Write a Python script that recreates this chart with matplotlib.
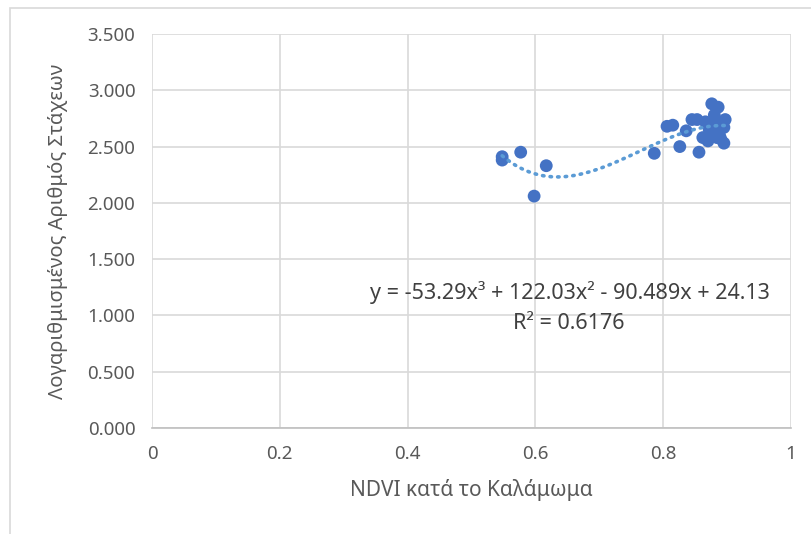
import matplotlib
matplotlib.use('Agg')
import matplotlib.pyplot as plt
import numpy as np
from matplotlib.patches import Rectangle

plt.rcParams['font.family'] = ['Noto Sans', 'DejaVu Sans']

# NDVI vs log number of ears
ndvi = [0.548, 0.548, 0.577, 0.598, 0.617, 0.786, 0.806, 0.815, 0.826, 0.836,
        0.845, 0.853, 0.856, 0.862, 0.866, 0.870, 0.876, 0.878, 0.880, 0.882,
        0.886, 0.888, 0.890, 0.895, 0.897, 0.895, 0.872, 0.884]
log_ears = [2.41, 2.38, 2.45, 2.06, 2.33, 2.44, 2.68, 2.69, 2.50, 2.64,
            2.74, 2.74, 2.45, 2.58, 2.72, 2.55, 2.88, 2.62, 2.78, 2.70,
            2.85, 2.60, 2.57, 2.67, 2.74, 2.53, 2.65, 2.58]
coef = [-53.29, 122.03, -90.489, 24.13]

xticks = [0, 0.2, 0.4, 0.6, 0.8, 1]
xtick_labels = ['0', '0.2', '0.4', '0.6', '0.8', '1']
yticks = [0, 0.5, 1.0, 1.5, 2.0, 2.5, 3.0, 3.5]
ytick_labels = ['0.000', '0.500', '1.000', '1.500', '2.000', '2.500', '3.000', '3.500']

fig = plt.figure(figsize=(8.11, 5.34), dpi=100)
ax = fig.add_axes([152/811, 106/534, 639/811, 394/534])

# trendline
xs = np.linspace(min(ndvi), max(ndvi), 200)
ax.plot(xs, np.polyval(coef, xs), color='#5B9BD5', lw=2.6,
        linestyle=(0, (0.4, 1.7)), dash_capstyle='round', zorder=3)

ax.scatter(ndvi, log_ears, s=85, color='#4472C4', edgecolors='none', zorder=2)

ax.set_xlim(0, 1)
ax.set_ylim(0, 3.5)
ax.set_xticks(xticks)
ax.set_xticklabels(xtick_labels)
ax.set_yticks(yticks)
ax.set_yticklabels(ytick_labels)
ax.grid(True, color='#D9D9D9', lw=1.2)
ax.set_axisbelow(True)
for s in ['top', 'right', 'left']:
    ax.spines[s].set_visible(False)
ax.spines['bottom'].set_color('#BFBFBF')
ax.spines['bottom'].set_linewidth(1.2)
ax.tick_params(length=0, labelsize=13.5, labelcolor='#595959', pad=12)

ax.set_xlabel('NDVI κατά το Καλάμωμα', fontsize=15, color='#595959', labelpad=12)
ax.set_ylabel('Λογαριθμισμένος Αριθμός Στάχεων', fontsize=14.5, color='#595959', labelpad=14)

ax.text(0.654, 1.205, 'y = -53.29x³ + 122.03x² - 90.489x + 24.13', fontsize=15.5,
        color='#404040', ha='center', va='center')
ax.text(0.652, 0.93, 'R² = 0.6176', fontsize=15.5, color='#404040',
        ha='center', va='center')

fig.add_artist(Rectangle((10/811, -0.1), 1.2, (534-8)/534 + 0.1, transform=fig.transFigure,
                         fill=False, edgecolor='#D9D9D9', lw=1.2))

fig.savefig('out.png', dpi=100)
